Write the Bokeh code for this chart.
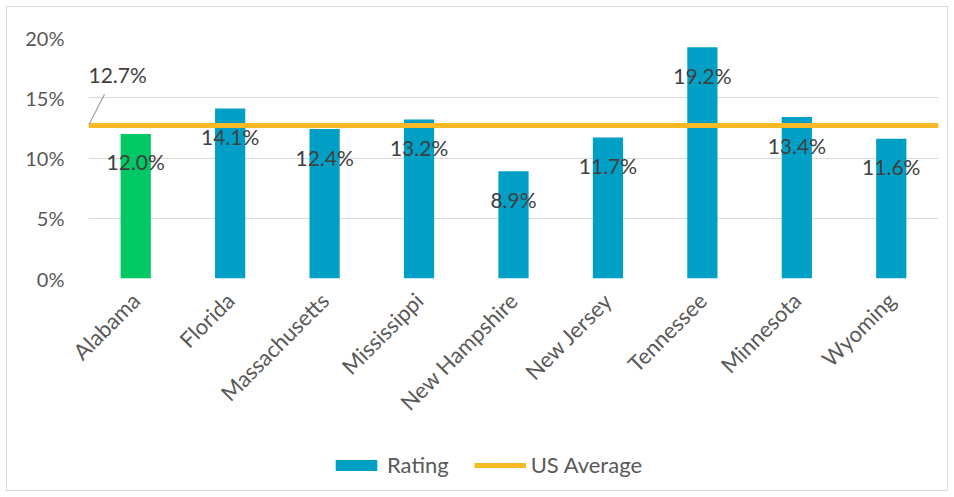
import math
from bokeh.plotting import figure
from bokeh.layouts import column
from bokeh.models import (ColumnDataSource, Legend, LegendItem, FixedTicker,
                          CustomJSTickFormatter, Range1d)
from bokeh.transform import dodge
from bokeh.core.properties import value
from bokeh.embed import file_html
from bokeh.resources import INLINE

states = ["Alabama", "Florida", "Massachusetts", "Mississippi", "New Hampshire",
          "New Jersey", "Tennessee", "Minnesota", "Wyoming"]
rating = [12.0, 14.1, 12.4, 13.2, 8.9, 11.7, 19.2, 13.4, 11.6]
us_average = 12.7
y_ticks = [0, 5, 10, 15, 20]

BLUE = "#00A0C6"
GREEN = "#00C864"
ORANGE = "#F7B924"
FONT = "Lato"

colors = [GREEN] + [BLUE] * (len(states) - 1)
src = ColumnDataSource(dict(state=states, rating=rating, color=colors,
                            label=[f"{v:.1f}%" for v in rating]))
asrc = ColumnDataSource(dict(first=[states[0]], last=[states[-1]], y=[us_average],
                             y1=[us_average + 2.6],
                             label=[f"{us_average:.1f}%"]))

p = figure(x_range=states, y_range=(0, 20), width=940, height=423,
           output_backend="svg", toolbar_location=None,
           min_border_left=81, min_border_right=9, min_border_top=30,
           min_border_bottom=152)
p.outline_line_color = None

bars = p.vbar(x="state", top="rating", width=0.32, fill_color="color",
              line_color=None, source=src)
p.segment(x0=dodge("first", -0.5, range=p.x_range), y0="y",
          x1=dodge("last", 0.5, range=p.x_range), y1="y",
          line_color=ORANGE, line_width=5, source=asrc)

p.text(x="state", y="rating", text="label", source=src, text_align="center",
       text_baseline="middle", y_offset=28, text_font=value(FONT),
       text_font_size="21px", text_color="#404040")

# average label with leader line
p.segment(x0=dodge("first", -0.5, range=p.x_range), y0="y",
          x1=dodge("first", -0.33, range=p.x_range), y1="y1",
          line_color="#A6A6A6", line_width=1.2, source=asrc)
p.text(x=dodge("first", -0.5, range=p.x_range), y="y", text="label", source=asrc,
       text_align="left", text_baseline="middle", y_offset=-51,
       text_font=value(FONT), text_font_size="21px", text_color="#404040")

p.yaxis.ticker = FixedTicker(ticks=y_ticks)
p.yaxis.formatter = CustomJSTickFormatter(code="return tick + '%';")
for ax in (p.xaxis, p.yaxis):
    ax.axis_line_color = None
    ax.major_tick_line_color = None
    ax.minor_tick_line_color = None
    ax.major_label_text_font = FONT
    ax.major_label_text_color = "#595959"
p.yaxis.major_label_text_font_size = "20px"
p.xaxis.major_label_text_font_size = "22px"
p.yaxis.major_label_standoff = 18
p.xaxis.major_label_orientation = math.pi / 4
p.xaxis.major_label_standoff = 12
p.xgrid.grid_line_color = None
p.ygrid.grid_line_color = "#D9D9D9"
p.ygrid.grid_line_width = 1

# legend strip: same data, drawn into a range that keeps the marks out of view
lf = figure(x_range=p.x_range, y_range=Range1d(100, 101), width=940, height=60,
            output_backend="svg", toolbar_location=None,
            x_axis_location=None, y_axis_location=None, min_border=0)
lf.outline_line_color = None
lf.grid.visible = False
lb = lf.vbar(x="state", top="rating", width=0.32, fill_color="color",
             line_color=None, source=src)
la = lf.segment(x0=dodge("first", -0.5, range=p.x_range), y0="y",
                x1=dodge("last", 0.5, range=p.x_range), y1="y",
                line_color=ORANGE, line_width=5, source=asrc)
legend = Legend(items=[LegendItem(label="Rating", renderers=[lb], index=1),
                       LegendItem(label="US Average", renderers=[la])],
                orientation="horizontal", location=(242, 12),
                label_text_font=FONT, label_text_font_size="22px",
                label_text_color="#595959", glyph_width=52, glyph_height=14,
                spacing=25, border_line_color=None, background_fill_alpha=0,
                margin=0, padding=4, label_standoff=5)
lf.add_layout(legend)

layout = column(p, lf, spacing=0,
                styles={"border": "1px solid #d9d9d9", "margin-left": "6px",
                        "margin-top": "6px"})

open("out.html", "w").write(file_html(layout, INLINE))
